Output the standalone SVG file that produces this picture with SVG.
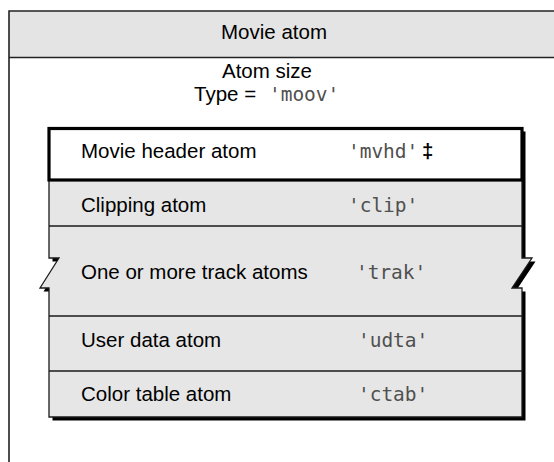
<svg xmlns="http://www.w3.org/2000/svg" width="554" height="462" viewBox="0 0 554 462">
<style>
.lbl{font-family:"Liberation Sans",Arial,sans-serif;font-size:20.5px;fill:#000}
.code{font-family:"DejaVu Sans Mono","Liberation Mono",monospace;font-size:19.5px;letter-spacing:-0.05px;fill:#505050}
.row{fill:#e6e6e6}
.sep{stroke:#1a1a1a;stroke-width:1.3;fill:none}
</style>
<defs>
<path id="boxShape" d="M49,128 H522 V258 H532 L512,288 H522 V417 H49 V288 H40 L59,258 H49 Z"/>
</defs>
<rect width="554" height="462" fill="#fff"/>
<g id="movie-atom">
<rect x="9" y="11" width="560" height="46.5" fill="#e4e4e4"/>
<path d="M554,11 H9 V462" fill="none" stroke="#222" stroke-width="1.6"/>
<line x1="9" y1="57.5" x2="554" y2="57.5" stroke="#222" stroke-width="1.6"/>
<text class="lbl" x="274" y="39" text-anchor="middle">Movie atom</text>
<text class="lbl" x="267" y="78" text-anchor="middle">Atom size</text>
<text class="lbl" x="194" y="101">Type =</text>
<text class="code" x="269" y="101">'moov'</text>
</g>
<g id="child-atoms">
<use href="#boxShape" transform="translate(3.5,3.5)" fill="#000"/>
<use href="#boxShape" class="row" stroke="#1a1a1a" stroke-width="1.3"/>
<line class="sep" x1="49" y1="226" x2="522" y2="226"/>
<line class="sep" x1="49" y1="316" x2="522" y2="316"/>
<line class="sep" x1="49" y1="371" x2="522" y2="371"/>
</g>
<g id="mvhd">
<rect x="49" y="128.5" width="473" height="51.5" fill="#fff" stroke="#000" stroke-width="3.2"/>
<text class="lbl" x="81" y="158">Movie header atom</text>
<text class="code" x="348" y="158">'mvhd'</text>
<text class="lbl" x="422" y="158" font-weight="bold">‡</text>
</g>
<g id="clip">
<text class="lbl" x="81" y="212">Clipping atom</text>
<text class="code" x="348" y="212">'clip'</text>
</g>
<g id="trak">
<text class="lbl" x="81" y="279">One or more track atoms</text>
<text class="code" x="356" y="279">'trak'</text>
</g>
<g id="udta">
<text class="lbl" x="81" y="347">User data atom</text>
<text class="code" x="358" y="347">'udta'</text>
</g>
<g id="ctab">
<text class="lbl" x="81" y="401">Color table atom</text>
<text class="code" x="358" y="401">'ctab'</text>
</g>
<g id="connectors"/>
</svg>
